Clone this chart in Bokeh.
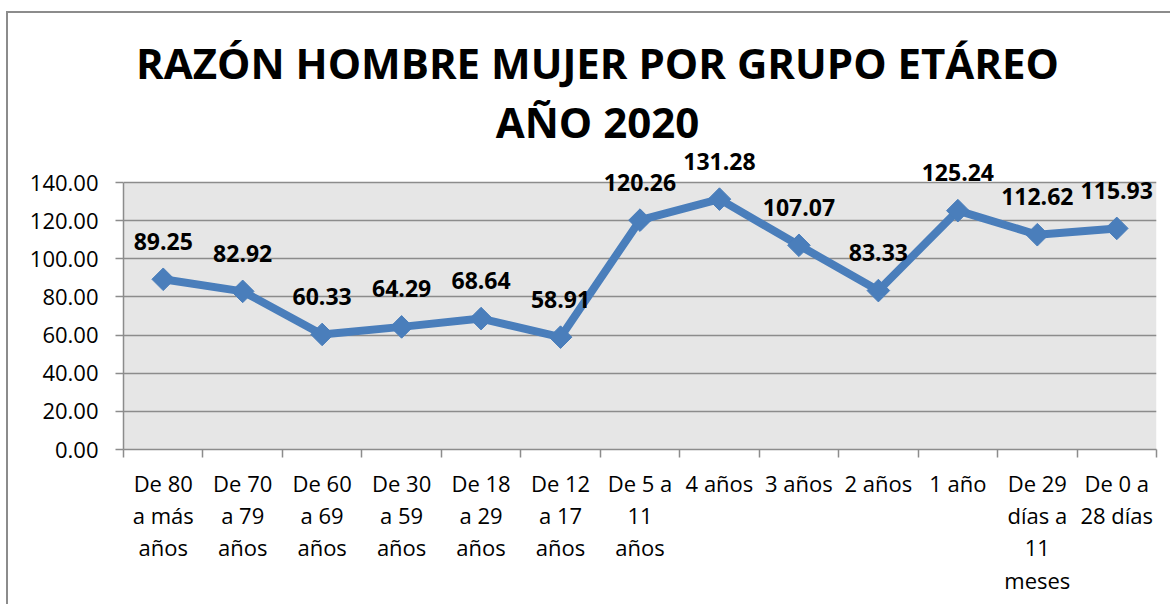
from bokeh.plotting import figure
from bokeh.models import (ColumnDataSource, LabelSet, Label, FixedTicker,
                          Range1d, BoxAnnotation)
from bokeh.core.properties import value
from bokeh.embed import file_html
from bokeh.resources import INLINE
import math

categories = ["De 80\na más\naños", "De 70\na 79\naños", "De 60\na 69\naños",
              "De 30\na 59\naños", "De 18\na 29\naños", "De 12\na 17\naños",
              "De 5 a\n11\naños", "4 años", "3 años", "2 años", "1 año",
              "De 29\ndías a\n11\nmeses", "De 0 a\n28 días"]
values = [89.25, 82.92, 60.33, 64.29, 68.64, 58.91, 120.26, 131.28,
          107.07, 83.33, 125.24, 112.62, 115.93]
y_ticks = [0, 20, 40, 60, 80, 100, 120, 140]
title_lines = ["RAZÓN HOMBRE MUJER POR GRUPO ETÁREO", "AÑO 2020"]

n = len(categories)
xs = [i + 0.5 for i in range(n)]
labels = [f"{v:.2f}" for v in values]
src = ColumnDataSource(dict(x=xs, y=values, lab=labels))

BLUE = "#4A7EBB"
GRID = "#8C8C8C"
FONT = "Open Sans"

# layout (page pixels): frame left 123, right 1156, top 13, axis (0) at 449
Y_TOP = 140 * (449 - 13) / (449 - 182)

p = figure(width=1164, height=593, output_backend="svg", toolbar_location=None,
           x_range=Range1d(0, n), y_range=Range1d(0, Y_TOP),
           min_border_left=115, min_border_right=16,
           min_border_top=0, min_border_bottom=157)
p.margin = (11, 0, 0, 6)
p.styles = {"border-top": "2px solid #8C8C8C", "border-left": "2px solid #8C8C8C"}
p.title = None
p.background_fill_color = "white"
p.border_fill_color = "white"
p.outline_line_color = None

# plot area background
p.add_layout(BoxAnnotation(left=0, right=n, bottom=0, top=140,
                           fill_color="#E6E6E6", fill_alpha=1,
                           line_color=None, level="image"))

p.line("x", "y", source=src, line_color=BLUE, line_width=8, line_join="round")
p.scatter("x", "y", source=src, marker="square", angle=math.pi / 4, size=16,
          fill_color=BLUE, line_color=BLUE)

ls = LabelSet(x="x", y="y", text="lab", source=src, y_offset=38,
              text_align="center", text_baseline="middle",
              text_font=value(FONT), text_font_style="bold",
              text_font_size="23px", text_color="black")
p.add_layout(ls)

# axes
p.xgrid.grid_line_color = None
p.ygrid.grid_line_color = GRID
p.ygrid.grid_line_width = 1.5
p.yaxis.ticker = FixedTicker(ticks=y_ticks)
p.yaxis.bounds = (0, 140)
p.yaxis.major_label_overrides = {t: f"{t:.2f}" for t in y_ticks}
p.yaxis.minor_tick_line_color = None
p.yaxis.major_tick_out = 8
p.yaxis.major_tick_in = 0
p.yaxis.major_label_standoff = 17
p.yaxis.axis_line_color = GRID
p.yaxis.major_tick_line_color = GRID
p.yaxis.axis_line_width = 1.5
p.yaxis.major_tick_line_width = 1.5
p.yaxis.major_label_text_font = FONT
p.yaxis.major_label_text_font_size = "22px"
p.yaxis.major_label_text_color = "black"

p.xaxis.ticker = FixedTicker(ticks=xs, minor_ticks=list(range(n + 1)))
p.xaxis.major_label_overrides = {x: c for x, c in zip(xs, categories)}
p.xaxis.major_tick_line_color = None
p.xaxis.major_tick_out = 0
p.xaxis.major_tick_in = 0
p.xaxis.minor_tick_line_color = GRID
p.xaxis.minor_tick_out = 8
p.xaxis.minor_tick_in = 0
p.xaxis.minor_tick_line_width = 1.5
p.xaxis.axis_line_color = GRID
p.xaxis.axis_line_width = 1.5
p.xaxis.major_label_standoff = 10
p.xaxis.major_label_orientation = "horizontal"
p.xaxis.major_label_text_font = FONT
p.xaxis.major_label_text_font_size = "22px"
p.xaxis.major_label_text_color = "black"
p.xaxis.major_label_text_align = "center"
p.xaxis.major_label_text_line_height = 1.08

# title lines (page y centres 62 and 121)
for txt, py in zip(title_lines, [62, 121]):
    p.add_layout(Label(x=(597 - 123) / ((1156 - 123) / n),
                       y=140 * (449 - py) / (449 - 182),
                       text=txt, text_align="center",
                       text_baseline="middle", text_font=FONT,
                       text_font_style="bold", text_font_size="42px",
                       text_color="black"))

open("out.html", "w").write(file_html(p, INLINE))
